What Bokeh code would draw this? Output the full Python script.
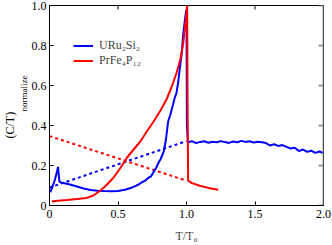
from bokeh.plotting import figure
from bokeh.models import (Range1d, FixedTicker, Title, Legend, LegendItem, Span)
from bokeh.embed import file_html
from bokeh.resources import INLINE
import math

# URu2Si2 (blue, solid)
uru_x = [0.005, 0.02, 0.04, 0.055, 0.062, 0.068, 0.073, 0.10, 0.15, 0.20, 0.25, 0.30, 0.35,
         0.40, 0.45, 0.50, 0.55, 0.60, 0.63, 0.65, 0.68, 0.70, 0.72, 0.74, 0.76, 0.78, 0.80,
         0.81, 0.834, 0.85, 0.866, 0.88, 0.90, 0.915, 0.927, 0.94, 0.95, 0.965, 0.975, 0.988,
         0.995, 1.0,
         1.003, 1.01, 1.04, 1.07, 1.10, 1.13, 1.16, 1.19, 1.22, 1.25, 1.28, 1.31, 1.34, 1.37,
         1.40, 1.43, 1.46, 1.49, 1.52, 1.55, 1.58, 1.61, 1.64, 1.67, 1.70, 1.73, 1.76, 1.79,
         1.82, 1.85, 1.88, 1.91, 1.94, 1.97, 2.00]
uru_y = [0.066, 0.09, 0.13, 0.17, 0.193, 0.15, 0.118, 0.112, 0.105, 0.095, 0.085, 0.078, 0.074,
         0.072, 0.071, 0.073, 0.079, 0.089, 0.098, 0.105, 0.118, 0.125, 0.138, 0.145, 0.168, 0.19,
         0.22, 0.23, 0.27, 0.33, 0.42, 0.45, 0.50, 0.54, 0.563, 0.62, 0.68, 0.76, 0.85, 0.926,
         0.96, 0.98,
         0.40, 0.315, 0.322, 0.312, 0.318, 0.321, 0.314, 0.319, 0.316, 0.322, 0.317, 0.313, 0.320,
         0.316, 0.323, 0.318, 0.321, 0.315, 0.319, 0.316, 0.312, 0.300, 0.306, 0.298, 0.302,
         0.293, 0.285, 0.289, 0.272, 0.280, 0.268, 0.274, 0.263, 0.270, 0.262]

# PrFe4P12 (red, solid)
prf_x = [0.017, 0.06, 0.127, 0.20, 0.27, 0.32, 0.37, 0.42, 0.468, 0.52, 0.566, 0.62, 0.663,
         0.71, 0.76, 0.81, 0.854, 0.89, 0.927, 0.955, 0.976, 0.995, 1.005, 1.008, 1.012, 1.04,
         1.097, 1.16, 1.232]
prf_y = [0.02, 0.024, 0.028, 0.033, 0.038, 0.05, 0.074, 0.105, 0.14, 0.19, 0.24, 0.285, 0.32,
         0.37, 0.42, 0.475, 0.53, 0.59, 0.662, 0.73, 0.81, 0.93, 1.0, 0.5, 0.124, 0.112,
         0.099, 0.088, 0.079]

# dotted guide lines
uru_dot_x = [0.0, 1.0]
uru_dot_y = [0.09, 0.322]
prf_dot_x = [0.0, 1.0]
prf_dot_y = [0.347, 0.124]

x_ticks = [0, 0.5, 1.0, 1.5, 2.0]
x_tick_labels = ["0", "0.5", "1.0", "1.5", "2.0"]
y_ticks = [0, 0.2, 0.4, 0.6, 0.8, 1.0]
y_tick_labels = ["0", "0.2", "0.4", "0.6", "0.8", "1.0"]

FONT = "Liberation Serif"
BLUE = "#0000ff"
RED = "#ff0000"
GRAY = "#9a9a9a"

W, H = 332, 245
ML, MR, MT, MB = 49, 9, 5, 38
FH = H - MT - MB

p = figure(width=W, height=H, output_backend="svg", toolbar_location=None,
           x_range=Range1d(0, 2), y_range=Range1d(0, 1),
           min_border_left=ML, min_border_right=MR, min_border_top=MT, min_border_bottom=MB,
           x_axis_label="T/T\u2080")
p.grid.visible = False
p.outline_line_color = "black"
p.outline_line_width = 1
p.background_fill_color = "white"
p.border_fill_color = "white"

def style_axis(ax, ticks, labels):
    ax.ticker = FixedTicker(ticks=ticks)
    ax.major_label_overrides = {t: l for t, l in zip(ticks, labels)}
    ax.major_tick_in = 4
    ax.major_tick_out = 0
    ax.minor_tick_line_color = None
    ax.axis_line_color = "black"
    ax.major_tick_line_color = "black"
    ax.major_label_text_font = FONT
    ax.major_label_text_font_size = "12px"
    ax.major_label_text_color = "black"
    ax.major_label_standoff = 3

style_axis(p.xaxis[0], x_ticks, x_tick_labels)
p.xaxis[0].major_label_standoff = 4
p.xaxis[0].axis_label_text_font = FONT
p.xaxis[0].axis_label_text_font_style = "normal"
p.xaxis[0].axis_label_text_font_size = "12px"
p.xaxis[0].axis_label_standoff = 8
style_axis(p.yaxis[0], y_ticks, y_tick_labels)

# mirrored ticks on top (black) and right (gray) edges
p.ray(x=x_ticks, y=[1.0] * len(x_ticks), length=4, length_units="screen",
      angle=-math.pi / 2, line_color="black", line_width=1)
p.add_layout(Span(location=2.0, dimension="height", line_color=GRAY, line_width=2))
p.ray(x=[2.0] * len(y_ticks), y=y_ticks, length=5, length_units="screen",
      angle=math.pi, line_color=GRAY, line_width=2)

p.line(uru_dot_x, uru_dot_y, line_color=BLUE, line_width=2, line_dash="3 3")
p.line(prf_dot_x, prf_dot_y, line_color=RED, line_width=2, line_dash="3 3")
r_uru = p.line(uru_x, uru_y, line_color=BLUE, line_width=2)
r_prf = p.line(prf_x, prf_y, line_color=RED, line_width=2)

legend = Legend(items=[LegendItem(label="URu\u2082Si\u2082", renderers=[r_uru]),
                       LegendItem(label="PrFe\u2084P\u2081\u2082", renderers=[r_prf])],
                location=(24, FH - 34.5 - 30), padding=0, margin=0, spacing=0,
                glyph_width=20, glyph_height=15, label_height=15, label_standoff=6,
                border_line_color=None, background_fill_alpha=0,
                label_text_font=FONT, label_text_font_size="12px")
p.add_layout(legend)

# y axis label: (C/T) with subscript "normalize", as two side titles
t_sub = Title(text="normalize", align="left", offset=94, standoff=0,
              text_font=FONT, text_font_size="9px", text_font_style="normal",
              text_color="black")
p.add_layout(t_sub, "left")
t_main = Title(text="(C/T)", align="left", offset=67, standoff=0,
               text_font=FONT, text_font_size="12px", text_font_style="normal",
               text_color="black")
p.add_layout(t_main, "left")

open("out.html", "w").write(file_html(p, INLINE))
